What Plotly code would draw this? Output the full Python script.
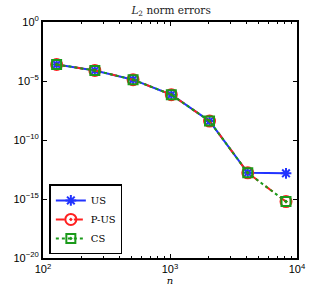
import plotly.graph_objects as go

n = [128, 256, 512, 1024, 2048, 4096, 8192]
err_us = [2.5e-4, 7.8e-5, 1.3e-5, 6.9e-7, 4.0e-9, 1.65e-13, 1.5e-13]
err_pus = [2.5e-4, 7.8e-5, 1.3e-5, 6.9e-7, 4.0e-9, 1.65e-13, 6.0e-16]
err_cs = [2.5e-4, 7.8e-5, 1.3e-5, 6.9e-7, 4.0e-9, 1.65e-13, 6.0e-16]

xtick_vals = [100, 1000, 10000]
xtick_text = ["10<sup>2</sup>", "10<sup>3</sup>", "10<sup>4</sup>"]
ytick_vals = [1, 1e-5, 1e-10, 1e-15, 1e-20]
ytick_text = ["10<sup>0</sup>", "10<sup>−5</sup>", "10<sup>−10</sup>", "10<sup>−15</sup>", "10<sup>−20</sup>"]

fig = go.Figure()
fig.add_trace(go.Scatter(x=n, y=err_us, name="US", mode="lines+markers",
                         line=dict(color="#2233ff", width=2),
                         marker=dict(symbol="asterisk-open", size=9, color="#2233ff",
                                     line=dict(color="#2233ff", width=2))))
fig.add_trace(go.Scatter(x=n, y=err_pus, name="P-US", mode="lines+markers",
                         line=dict(color="#ff2020", width=2, dash="dash"),
                         marker=dict(symbol="circle-open-dot", size=11, color="#ff2020",
                                     line=dict(color="#ff2020", width=2))))
fig.add_trace(go.Scatter(x=n, y=err_cs, name="CS", mode="lines+markers",
                         line=dict(color="#1a9a1a", width=2, dash="dot"),
                         marker=dict(symbol="square-open-dot", size=9, color="#1a9a1a",
                                     line=dict(color="#1a9a1a", width=2))))

minor_x = [v * m for v in (100, 1000) for m in range(2, 10)]

fig.update_layout(
    width=329, height=291,
    margin=dict(l=43, r=32, t=22, b=33, autoexpand=False),
    paper_bgcolor="white", plot_bgcolor="white",
    title=dict(text="<i>L</i><sub>2</sub> norm errors", x=0.52, xanchor="center",
               y=0.965, yanchor="middle", automargin=False,
               font=dict(family="DejaVu Serif, serif", size=10.5, color="#222")),
    font=dict(family="Liberation Sans, Arial, sans-serif", size=11, color="black"),
    showlegend=True,
    legend=dict(x=0.025, y=0.015, xanchor="left", yanchor="bottom",
                bgcolor="white", bordercolor="black", borderwidth=1.5,
                font=dict(family="DejaVu Serif, serif", size=10, color="black"),
                tracegroupgap=0, itemwidth=30),
)
fig.update_xaxes(type="log", range=[2, 4], tickvals=xtick_vals, ticktext=xtick_text,
                 automargin=False,
                 ticks="inside", ticklen=4, tickwidth=1, tickcolor="black",
                 showline=True, linecolor="black", linewidth=2, mirror="ticks",
                 showgrid=False, zeroline=False,
                 minor=dict(tickvals=minor_x, ticks="inside", ticklen=2, tickcolor="black", showgrid=False),
                 title=dict(text="<i>n</i>", standoff=0,
                            font=dict(family="DejaVu Serif, serif", size=10)))
fig.update_yaxes(type="log", range=[-20, 0], tickvals=ytick_vals, ticktext=ytick_text,
                 automargin=False,
                 ticks="inside", ticklen=4, tickwidth=1, tickcolor="black",
                 showline=True, linecolor="black", linewidth=2, mirror="ticks",
                 showgrid=False, zeroline=False)

fig.write_html("out.html", config={"displayModeBar": False},
               post_script="document.body.style.margin='0';")
